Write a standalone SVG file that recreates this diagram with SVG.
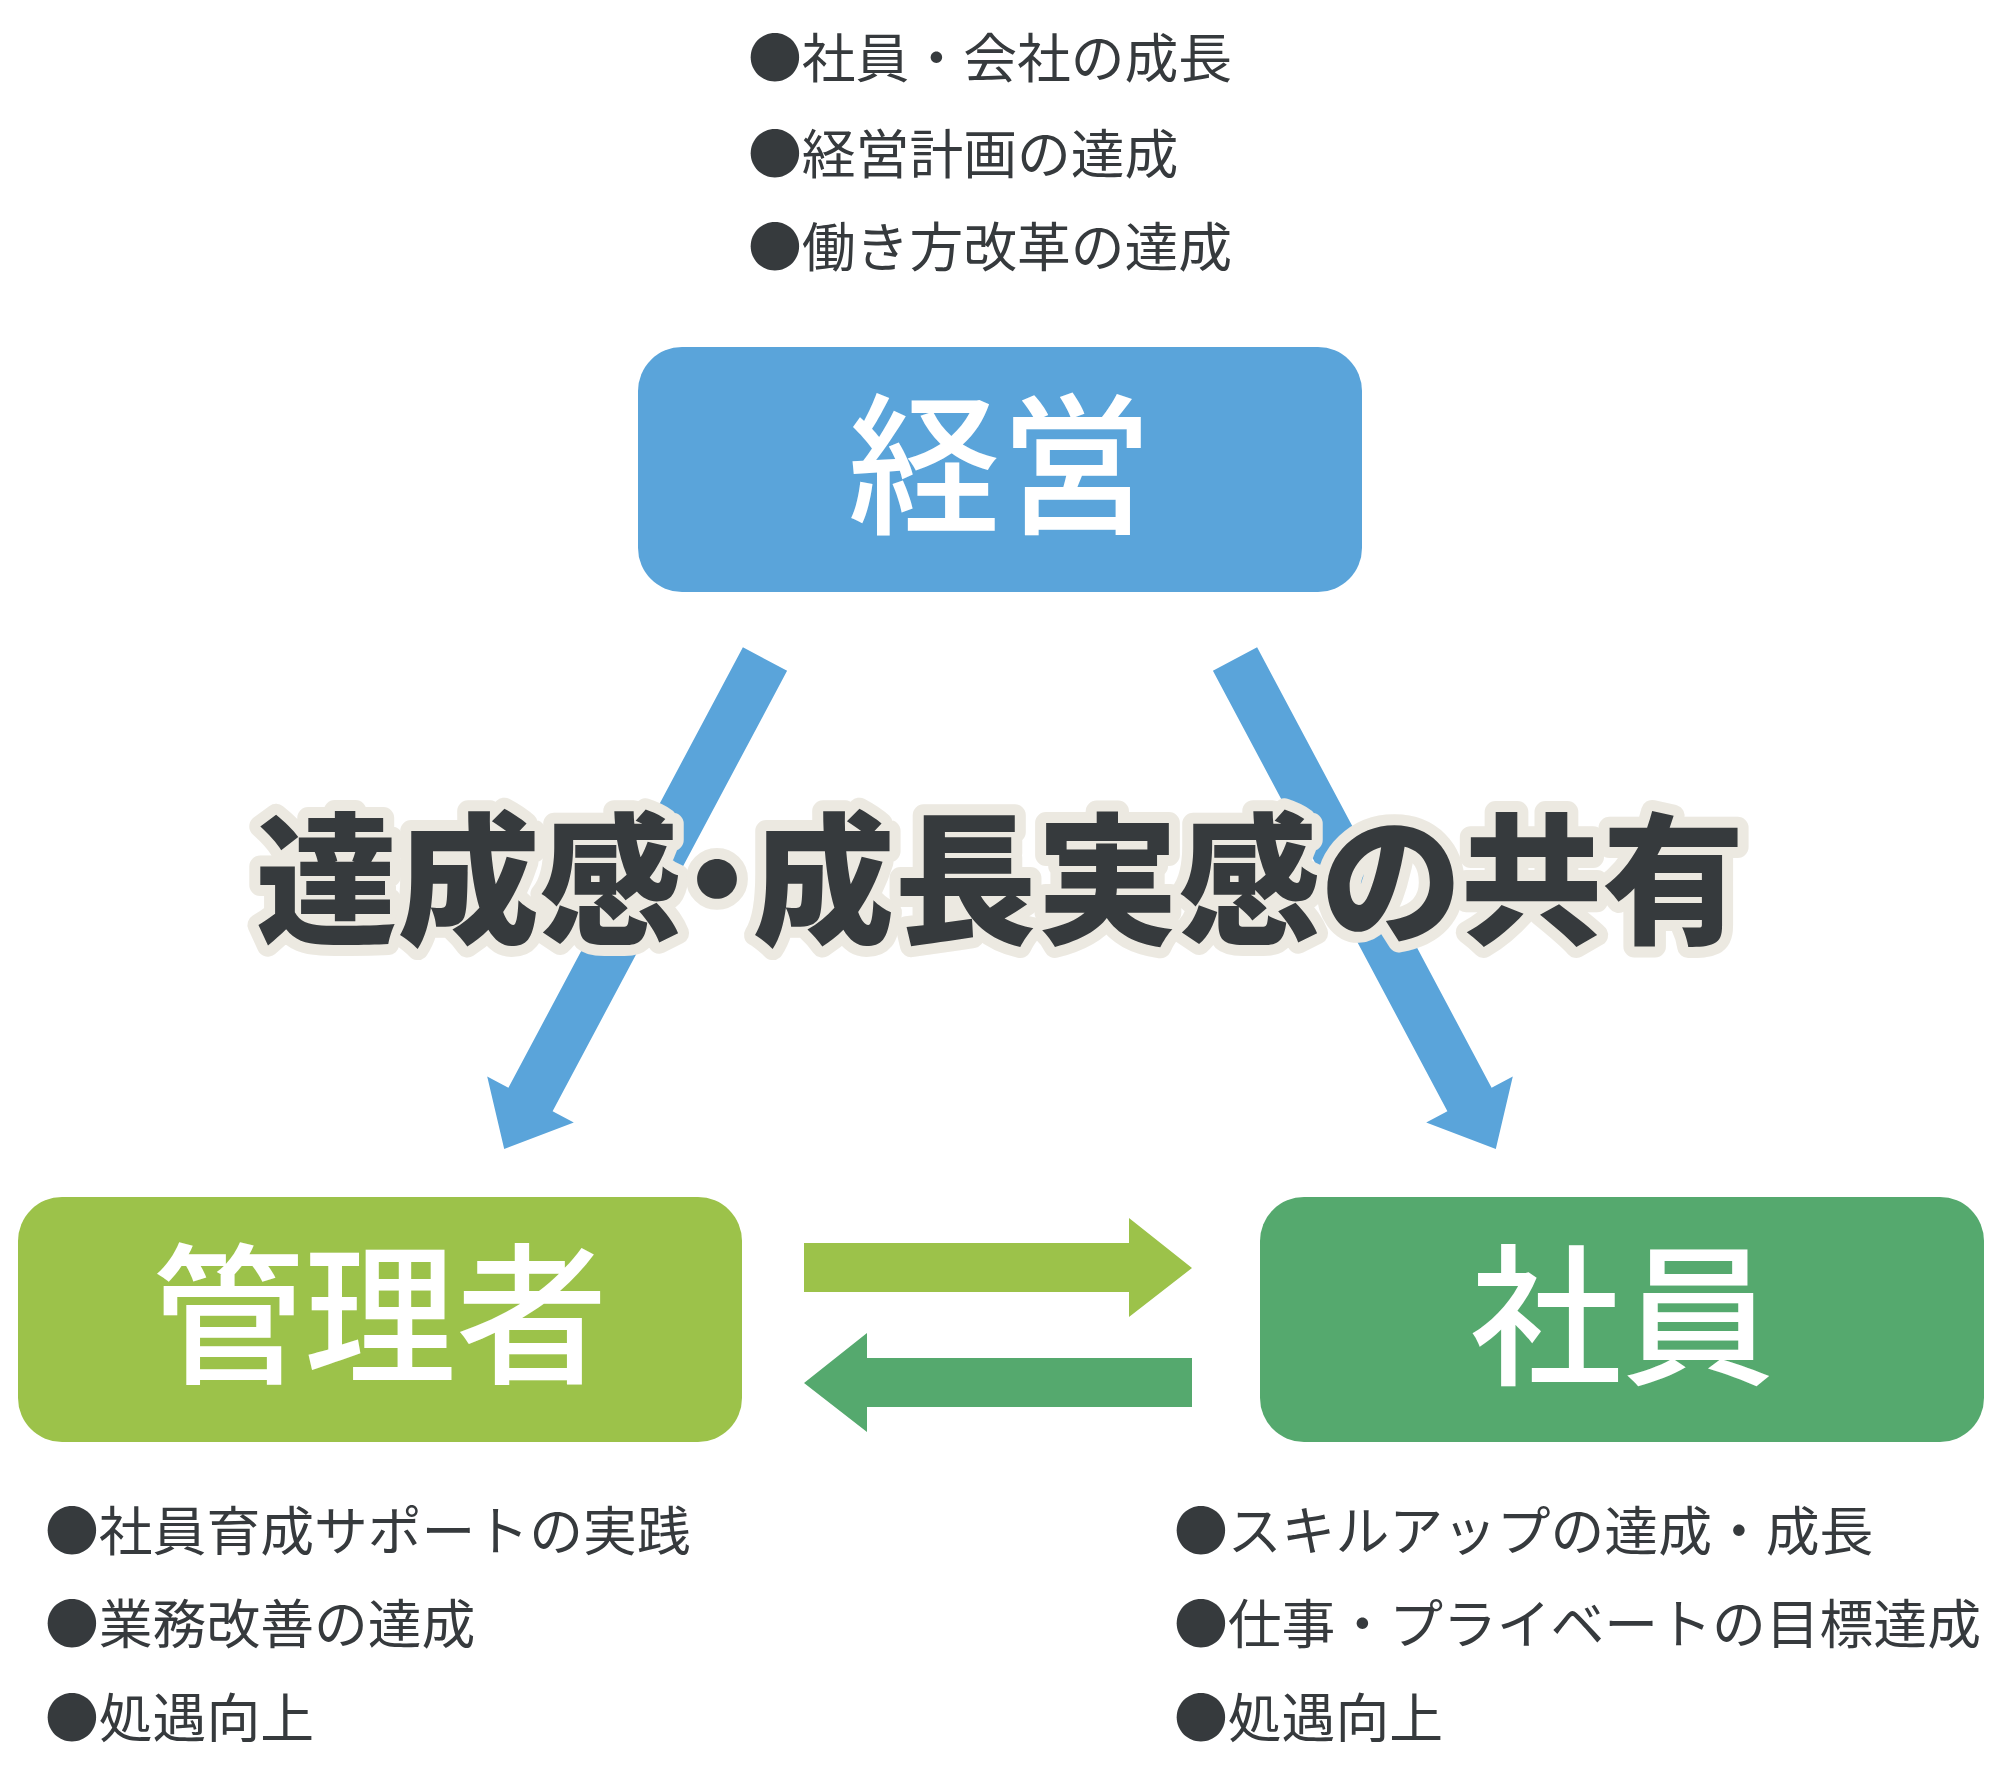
<svg xmlns="http://www.w3.org/2000/svg" width="2000" height="1779" viewBox="0 0 2000 1779">
<style>
.t{font-family:"Noto Sans CJK JP","Noto Sans CJK SC",sans-serif;fill:#363a3d;font-size:53.8px;}
.box-label{font-family:"Noto Sans CJK JP","Noto Sans CJK SC",sans-serif;font-weight:500;fill:#ffffff;font-size:152px;text-anchor:middle;}
.big{font-family:"Noto Sans CJK JP","Noto Sans CJK SC",sans-serif;font-weight:900;font-size:142px;fill:#363a3d;stroke:#ece9e1;stroke-width:22px;stroke-linejoin:round;paint-order:stroke;text-anchor:middle;font-feature-settings:"palt";}
</style>
<rect width="2000" height="1779" fill="#ffffff"/>
<g id="connectors">
<polygon fill="#5aa4da" points="742.9,647.25 787.1,670.75 552.6,1111.25 573.8,1122.5 504.2,1148.9 487.2,1076.5 508.4,1087.75"/>
<polygon fill="#5aa4da" points="1257.1,647.25 1212.9,670.75 1447.4,1111.25 1426.2,1122.5 1495.8,1148.9 1512.8,1076.5 1491.6,1087.75"/>
<polygon fill="#9cc24a" points="804,1243 1129,1243 1129,1218 1192,1268 1129,1317 1129,1292 804,1292"/>
<polygon fill="#55a96e" points="1192,1358 867,1358 867,1333 804,1383 867,1432 867,1407 1192,1407"/>
</g>
<g id="node-keiei">
<rect x="638" y="347" width="724" height="245" rx="44" ry="44" fill="#5aa4da"/>
<text class="box-label" x="1000" y="522">経営</text>
</g>
<g id="node-kanrisha">
<rect x="18" y="1197" width="724" height="245" rx="44" ry="44" fill="#9cc24a"/>
<text class="box-label" x="380" y="1372">管理者</text>
</g>
<g id="node-shain">
<rect x="1260" y="1197" width="724" height="245" rx="44" ry="44" fill="#55a96e"/>
<text class="box-label" x="1622" y="1373">社員</text>
</g>
<g id="notes-keiei">
<text class="t" x="748" y="78">●社員・会社の成長</text>
<text class="t" x="748" y="174">●経営計画の達成</text>
<text class="t" x="748" y="267">●働き方改革の達成</text>
</g>
<g id="notes-kanrisha">
<text class="t" x="45" y="1551">●社員育成サポートの実践</text>
<text class="t" x="45" y="1644">●業務改善の達成</text>
<text class="t" x="45" y="1738">●処遇向上</text>
</g>
<g id="notes-shain">
<text class="t" x="1174" y="1551">●スキルアップの達成・成長</text>
<text class="t" x="1174" y="1644">●仕事・プライベートの目標達成</text>
<text class="t" x="1174" y="1738">●処遇向上</text>
</g>
<g id="headline">
<text class="big" x="1000" y="933">達成感・成長実感の共有</text>
</g>
</svg>
